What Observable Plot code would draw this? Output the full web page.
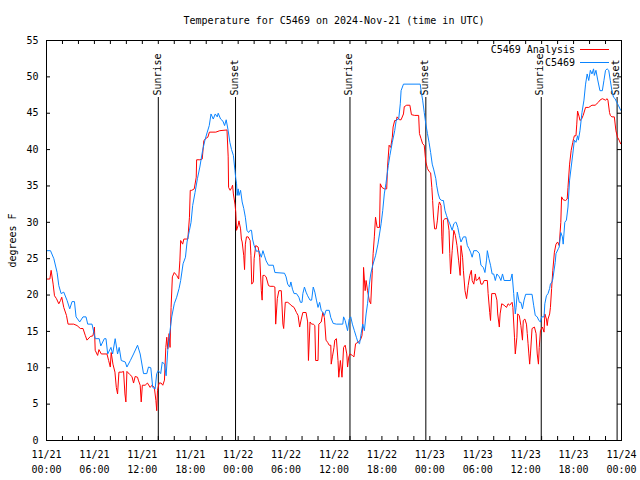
<!DOCTYPE html>
<html>
<head>
<meta charset="utf-8">
<script src="https://cdn.jsdelivr.net/npm/d3@7"></script>
<script src="https://cdn.jsdelivr.net/npm/@observablehq/plot@0.6"></script>
<style>
  html, body { margin: 0; padding: 0; background: #fff; }
  #wrap { position: relative; width: 640px; height: 480px; font-family: "DejaVu Sans Mono", "Liberation Mono", monospace; font-size: 10px; }
  #legend { position: absolute; top: 43px; left: 0; width: 640px; }
  .row { position: absolute; right: 31px; height: 12px; display: flex; align-items: center; white-space: pre; }
  .sw { display: inline-block; width: 29px; height: 0; border-top: 1px solid; margin-left: 5px; }
</style>
</head>
<body>
<div id="wrap"><div id="legend"></div></div>
<script>
// ---- data (hours since 2024-11-21 00:00 UTC, degrees F) ----
const titleText = "Temperature for C5469 on 2024-Nov-21 (time in UTC)";
const seriesNames = ["C5469 Analysis", "C5469"];
const seriesColors = ["#ff0000", "#0a84ff"];

const redHours = [0.0,0.42,0.58,0.83,1.0,1.25,1.54,1.75,1.91,2.16,2.5,2.7,3.41,3.83,4.24,4.57,4.87,5.07,5.49,5.82,6.0,6.1,6.4,6.57,6.86,7.57,7.78,7.99,8.1,8.32,8.57,8.74,8.9,9.07,9.44,9.65,9.82,9.94,10.07,10.4,10.7,10.9,11.1,11.4,11.5,11.73,11.86,12.0,12.35,12.64,12.98,13.2,13.5,13.7,13.8,13.9,14.1,14.35,14.56,14.77,14.94,15.06,15.18,15.35,15.47,15.6,15.76,16.0,16.3,16.55,16.7,16.8,17.05,17.2,17.7,17.9,18.0,18.2,18.5,18.75,18.8,19.2,19.5,19.7,19.9,20.2,20.4,21.2,21.7,22.6,22.75,22.8,23.0,23.2,23.3,23.4,23.6,23.7,23.8,24.0,24.1,24.3,24.4,24.5,24.7,24.8,24.9,25.04,25.25,25.5,25.6,25.7,25.9,26.0,26.2,26.5,26.7,26.9,27.0,27.1,27.3,27.5,27.8,28.0,28.4,28.6,28.7,28.9,29.1,29.4,29.6,29.7,29.9,30.2,30.45,30.6,31.0,31.3,31.5,31.7,31.9,32.1,32.5,32.7,32.8,33.0,33.2,33.4,33.6,33.7,34.0,34.1,34.4,34.6,34.8,35.0,35.2,35.4,35.6,35.65,35.8,36.0,36.1,36.3,36.5,36.6,36.8,37.0,37.2,37.4,37.6,37.7,37.85,38.0,38.3,38.5,38.7,39.0,39.3,39.5,39.6,39.7,39.9,40.02,40.2,40.43,40.6,40.8,40.9,41.05,41.2,41.4,41.7,41.8,42.0,42.3,42.6,42.7,42.9,43.1,43.3,43.4,43.6,43.8,43.9,44.2,44.4,44.7,44.8,45.1,45.5,45.7,46.1,46.6,46.7,46.9,47.1,47.3,47.4,47.5,47.7,47.9,48.1,48.25,48.35,48.45,48.6,48.8,48.95,49.1,49.2,49.4,49.5,49.6,49.7,49.9,50.2,50.4,50.5,50.6,50.8,51.0,51.2,51.4,51.6,51.8,51.9,52.1,52.2,52.4,52.6,52.8,53.0,53.2,53.3,53.5,53.7,53.8,54.1,54.2,54.4,54.6,54.8,55.2,55.3,55.5,55.6,55.75,56.2,56.4,56.5,56.7,56.8,57.0,57.3,57.6,57.8,58.0,58.3,58.4,58.6,58.7,58.9,59.0,59.2,59.4,59.6,59.7,59.9,60.1,60.2,60.3,60.4,60.5,60.6,60.8,61.1,61.3,61.45,61.6,61.7,61.85,62.1,62.3,62.4,62.6,62.7,62.8,63.0,63.1,63.25,63.4,63.6,63.8,64.0,64.2,64.4,64.5,64.7,65.0,65.2,65.3,65.5,65.7,65.9,66.0,66.1,66.3,66.4,66.5,66.7,66.8,67.0,67.2,67.5,67.9,68.3,68.7,69.1,69.3,69.6,70.0,70.2,70.3,70.5,70.6,70.8,71.1,71.3,71.5,71.7,71.9];
const redTemps = [22.2,22.2,23.4,21.5,19.9,19.5,18.8,19.25,19.7,18.3,17.2,16.0,16.0,15.8,15.4,15.4,14.4,13.8,14.3,14.4,15.6,12.4,11.7,12.5,11.9,11.9,11.0,10.1,12.1,10.5,9.4,7.3,6.4,9.4,9.4,9.5,6.4,5.3,9.5,9.1,8.8,7.9,8.8,8.7,8.3,7.6,5.3,7.6,7.6,7.9,7.3,7.6,7.3,5.5,4.1,6.9,7.9,7.9,7.6,8.3,12.8,14.2,12.6,14.7,12.8,18.3,22.5,23.1,22.7,22.2,24.7,27.5,27.0,27.7,27.7,30.7,34.4,34.4,34.6,36.2,38.6,38.6,38.7,41.2,41.5,41.7,42.4,42.4,42.6,42.7,39.0,34.8,34.4,34.8,35.1,33.9,32.5,31.4,28.9,29.6,30.2,29.1,27.7,27.3,25.4,23.5,27.0,28.0,28.0,27.5,25.4,21.5,21.8,25.0,26.8,26.6,25.2,20.6,19.3,22.7,22.7,22.5,21.3,21.2,21.2,21.1,16.0,19.5,20.6,20.6,16.0,15.4,19.0,19.0,18.8,18.6,18.3,17.6,17.2,15.6,16.7,17.6,17.6,16.3,11.0,16.3,16.0,16.0,15.8,11.0,11.0,16.0,16.3,17.6,16.9,13.8,13.5,13.1,13.1,10.5,11.5,12.8,13.8,14.0,11.0,8.7,11.0,8.7,12.8,13.1,11.9,10.1,11.5,11.9,11.7,11.5,13.3,13.5,13.8,14.4,15.8,23.8,20.6,22.0,20.6,19.2,18.8,23.4,25.7,28.0,30.7,29.3,29.3,35.3,34.8,34.6,34.6,37.6,40.6,40.3,41.7,43.1,44.0,44.0,44.5,44.1,44.1,44.9,45.9,46.1,46.1,44.8,44.7,44.7,42.2,41.5,40.8,40.6,39.4,38.3,37.4,37.0,36.8,34.8,33.0,31.0,29.1,29.1,30.3,32.3,32.8,32.3,28.0,25.7,30.3,30.5,30.5,28.9,25.7,22.9,26.1,28.9,28.2,26.8,24.8,22.7,26.8,25.2,23.4,20.6,19.5,21.3,22.7,23.4,22.0,21.5,22.9,22.0,22.2,22.5,21.5,21.5,22.0,22.0,20.2,17.6,16.5,20.2,20.2,19.3,17.4,15.6,17.4,18.8,18.6,18.3,18.8,18.6,19.0,18.3,14.2,11.9,14.2,17.4,17.2,15.8,13.8,16.5,16.7,16.0,14.7,13.3,11.9,10.5,11.9,15.4,15.6,14.7,11.9,10.5,12.8,15.1,15.6,14.9,17.4,16.7,15.8,16.7,17.4,18.3,20.9,23.4,25.9,27.0,27.3,26.8,30.0,33.5,33.1,33.0,33.2,34.8,38.0,39.9,41.0,41.5,41.9,41.9,43.5,45.3,44.5,44.0,44.2,44.7,45.8,45.8,46.1,46.1,46.5,46.8,47.0,46.8,47.0,46.8,45.1,44.7,44.5,44.5,42.6,41.7,41.3,40.8];

const blueHours = [0.0,0.5,0.92,1.33,1.54,1.83,2.16,2.58,2.91,3.2,3.5,3.7,4.16,4.57,4.95,5.16,5.7,6.1,6.6,6.8,7.24,7.45,7.66,8.07,8.28,8.6,8.9,9.1,9.36,9.86,10.07,10.5,10.9,11.4,11.73,12.15,12.56,12.77,13.06,13.3,13.6,13.8,14.0,14.3,14.5,14.77,14.98,15.18,15.47,15.68,16.0,16.3,16.6,16.8,17.1,17.4,17.6,17.9,18.1,18.3,18.6,18.9,19.2,19.55,19.84,20.13,20.38,20.6,20.88,21.13,21.38,21.5,21.8,22.1,22.3,22.5,22.75,22.96,23.17,23.4,23.6,23.7,23.8,23.87,24.0,24.1,24.3,24.5,24.7,24.9,25.1,25.3,25.5,25.67,25.8,26.0,26.3,26.6,26.9,27.1,27.3,27.5,27.8,28.4,28.6,29.8,30.0,30.2,30.45,30.6,30.8,31.0,31.3,31.6,31.8,32.0,32.1,32.3,32.5,32.7,33.0,33.2,33.4,33.6,33.8,34.0,34.2,34.4,34.6,34.8,35.0,35.4,35.6,35.9,36.3,37.1,37.2,37.4,37.7,37.9,38.1,38.3,38.55,38.8,39.0,39.2,39.4,39.6,39.8,40.02,40.2,40.43,40.6,40.85,41.2,41.5,41.7,41.9,42.1,42.3,42.5,42.8,43.0,43.3,43.6,43.8,44.1,44.3,44.4,44.7,46.8,46.9,47.1,47.3,47.5,47.7,47.9,48.1,48.3,48.5,48.75,48.85,49.05,49.25,49.5,49.7,49.9,50.1,50.3,50.5,50.8,51.0,51.2,51.3,51.5,51.7,51.9,52.2,52.5,52.7,52.9,53.1,53.3,53.5,53.9,54.2,54.4,54.7,54.9,55.1,55.2,55.4,55.6,55.8,56.0,56.2,56.4,56.7,56.9,57.1,57.3,58.1,58.3,58.5,58.7,58.8,58.95,59.2,59.4,59.6,59.8,60.0,60.8,61.0,61.2,61.45,61.65,61.85,62.0,62.3,62.4,62.6,62.8,63.0,63.1,63.3,63.4,63.7,63.8,64.1,64.2,64.4,64.6,64.7,64.9,65.1,65.3,65.5,65.7,65.9,66.1,66.3,66.5,66.6,66.8,67.05,67.3,67.5,67.7,67.9,68.1,68.3,68.5,68.6,68.8,69.0,69.3,69.6,69.8,70.0,70.2,70.4,70.6,70.8,71.0,71.2,71.4,71.6,71.9];
const blueTemps = [26.1,26.1,25.0,23.1,21.3,20.2,20.4,19.25,18.1,19.1,19.1,17.0,16.3,17.0,17.0,16.0,16.0,14.0,14.0,13.0,14.0,14.0,11.9,12.8,11.9,14.0,11.9,12.8,11.0,10.8,10.1,11.0,11.9,13.1,11.9,9.2,9.2,10.1,10.0,7.3,7.1,9.2,9.6,9.2,10.8,10.5,8.9,12.4,15.1,17.0,18.8,19.7,20.9,22.0,24.3,25.2,27.3,28.9,30.0,32.3,34.1,36.0,37.6,39.9,41.3,42.4,43.3,44.9,44.2,44.9,44.5,45.0,44.2,43.9,43.3,44.1,42.6,41.0,40.0,39.2,37.1,36.0,35.3,33.7,34.6,33.7,34.4,32.8,31.9,30.7,28.9,28.6,28.9,28.9,27.7,26.8,26.0,26.1,25.2,26.1,25.4,24.7,24.1,24.1,23.1,23.0,22.5,21.5,21.1,21.8,20.8,20.2,20.2,19.7,19.0,19.0,20.2,21.1,20.4,19.9,19.3,19.3,21.1,20.4,19.3,18.3,19.0,17.9,17.6,17.2,17.9,17.9,16.9,16.1,16.0,16.0,17.0,16.5,15.1,16.7,17.0,16.0,15.1,14.2,13.5,13.3,14.7,16.0,15.1,17.4,18.8,21.5,22.9,24.1,25.4,27.0,28.4,29.8,31.6,33.9,35.3,37.8,39.2,41.0,42.6,44.1,44.2,46.3,48.1,49.0,49.0,48.1,46.8,45.1,43.5,42.2,41.0,39.6,38.0,37.2,36.0,35.1,33.9,33.2,33.0,33.0,31.6,30.9,30.3,29.8,28.9,29.8,30.0,30.0,29.3,28.2,27.3,28.0,28.0,26.8,26.4,25.9,25.2,26.1,26.1,25.7,24.1,23.8,23.1,24.8,26.1,25.0,24.1,22.9,22.9,22.0,22.9,22.5,22.0,22.9,22.0,22.0,22.9,20.2,17.4,18.3,20.4,19.0,19.0,18.1,19.3,20.1,20.1,18.6,17.2,17.0,16.5,16.3,17.0,17.0,18.8,19.9,20.2,20.9,21.5,21.8,22.2,24.5,25.7,26.4,26.6,28.6,28.0,27.0,30.0,30.3,32.1,35.8,37.6,39.4,41.3,41.0,41.9,41.3,42.6,45.1,46.8,49.0,50.4,49.5,50.9,50.4,51.1,50.2,50.9,49.7,48.1,48.1,49.5,50.9,51.1,50.9,49.5,48.1,47.2,47.0,46.5,46.1,45.4];

const eventHours = [14.0, 23.67, 38.0, 47.5, 61.95, 71.45];
const eventNames = ["Sunrise", "Sunset", "Sunrise", "Sunset", "Sunrise", "Sunset"];

const xTickHours = [0, 6, 12, 18, 24, 30, 36, 42, 48, 54, 60, 66, 72];
const xTickLabels = ["11/21\n00:00","11/21\n06:00","11/21\n12:00","11/21\n18:00","11/22\n00:00","11/22\n06:00","11/22\n12:00","11/22\n18:00","11/23\n00:00","11/23\n06:00","11/23\n12:00","11/23\n18:00","11/24\n00:00"];
const xMinorHours = d3.range(0, 73, 2);
const yTicks = [0, 5, 10, 15, 20, 25, 30, 35, 40, 45, 50, 55];

// ---- build ----
const red = redHours.map((h, i) => ({h, t: redTemps[i]}));
const blue = blueHours.map((h, i) => ({h, t: blueTemps[i]}));
const xTicks = xTickHours.map((h, i) => ({h, label: xTickLabels[i]}));
const events = eventHours.map((h, i) => ({h, name: eventNames[i]}));

const W = 640, H = 480, mL = 46, mR = 19, mT = 40, mB = 40;
const fw = W - mL - mR, fh = H - mT - mB;
const font = "DejaVu Sans Mono, Liberation Mono, monospace";

const chart = Plot.plot({
  width: W, height: H,
  marginLeft: mL, marginRight: mR, marginTop: mT, marginBottom: mB,
  style: {fontFamily: font, fontSize: "10px", background: "white", color: "black"},
  x: {type: "linear", domain: [0, 72], axis: null},
  y: {domain: [0, 55], axis: null},
  marks: [
    // tick labels
    Plot.axisY({ticks: yTicks, tickSize: 0, tickPadding: 8, label: null, fill: "black"}),
    Plot.text(xTicks, {x: "h", text: "label", frameAnchor: "bottom", dy: 7, lineAnchor: "top", lineHeight: 1.5, fill: "black"}),
    // inward ticks
    Plot.tickX(xMinorHours, {x: d => d, insetTop: fh - 4, stroke: "black"}),
    Plot.tickX(xMinorHours, {x: d => d, insetBottom: fh - 4, stroke: "black"}),
    Plot.tickY(yTicks, {y: d => d, insetRight: fw - 4, stroke: "black"}),
    Plot.tickY(yTicks, {y: d => d, insetLeft: fw - 4, stroke: "black"}),
    // sunrise / sunset
    Plot.ruleX(events, {x: "h", insetTop: 57, stroke: "black"}),
    Plot.text(events, {x: "h", text: "name", frameAnchor: "top", dy: 55, dx: -1, rotate: -90, textAnchor: "start", lineAnchor: "middle", fill: "black"}),
    // series
    Plot.line(red, {x: "h", y: "t", stroke: seriesColors[0], strokeWidth: 1}),
    Plot.line(blue, {x: "h", y: "t", stroke: seriesColors[1], strokeWidth: 1}),
    Plot.frame({stroke: "black"}),
    // title & y label
    Plot.text([titleText], {frameAnchor: "top", dy: -20, lineAnchor: "middle", fill: "black"}),
    Plot.text(["degrees F"], {frameAnchor: "left", dx: -34, rotate: -90, textAnchor: "middle", lineAnchor: "middle", fill: "black"})
  ]
});
document.getElementById("wrap").prepend(chart);

// legend
const legend = document.getElementById("legend");
seriesNames.forEach((name, i) => {
  const row = document.createElement("div");
  row.className = "row";
  row.style.top = (i * 13.5) + "px";
  const label = document.createElement("span");
  label.textContent = name;
  const sw = document.createElement("span");
  sw.className = "sw";
  sw.style.borderTopColor = seriesColors[i];
  row.append(label, sw);
  legend.append(row);
});
</script>
</body>
</html>
